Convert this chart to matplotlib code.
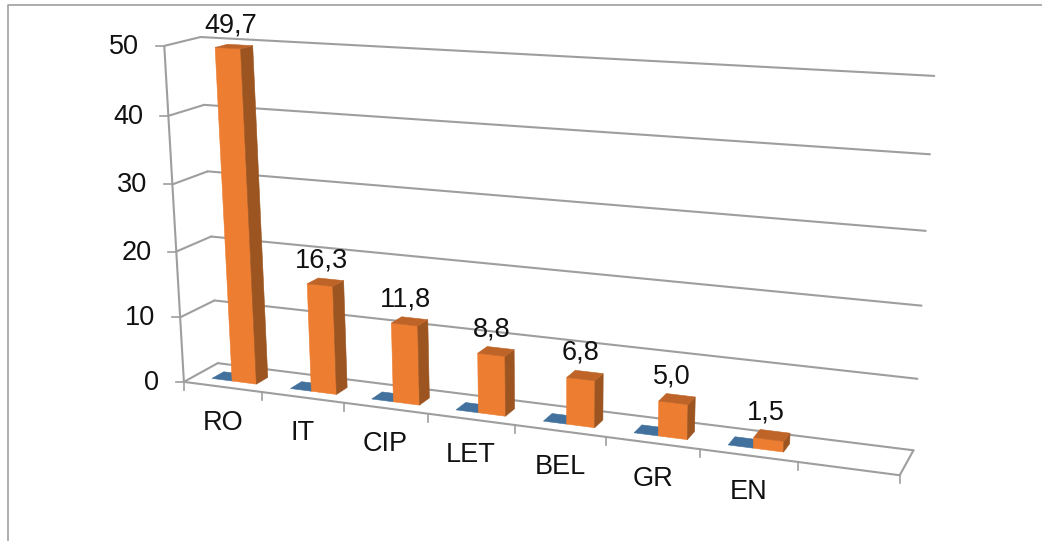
import numpy as np
import matplotlib
matplotlib.use("Agg")
import matplotlib.pyplot as plt

plt.rcParams['font.family'] = ['Liberation Sans', 'DejaVu Sans']

categories = ["RO", "IT", "CIP", "LET", "BEL", "GR", "EN"]
series_blue = [0, 0, 0, 0, 0, 0, 0]
series_orange = [49.7, 16.3, 11.8, 8.8, 6.8, 5.0, 1.5]
value_ticks = [0, 10, 20, 30, 40, 50]
n_slots = 8

# bar layout inside one category slot
BLUE_U = (0.23, 0.49)
ORANGE_U = (0.49, 0.80)
BAR_W = (0.30, 0.65)

GRID = "#9e9e9e"
ORANGE = "#ed7d31"
ORANGE_SIDE = "#9c5520"
ORANGE_TOP = "#bf6428"
BLUE = "#41719c"
FONT = 19.5

# (slot, depth, value) -> pixel pairs, used to fit the camera
calib = [
    (0, 0, 50, 164, 46), (0, 0, 40, 169, 116), (0, 0, 30, 173, 184),
    (0, 0, 20, 176, 250), (0, 0, 10, 180, 316), (0, 0, 0, 184, 382),
    (0, 1, 50, 201, 37), (0, 1, 40, 203, 105), (0, 1, 30, 207, 172),
    (0, 1, 20, 211, 238), (0, 1, 10, 215, 300), (0, 1, 0, 218, 363),
    (8, 1, 50, 934, 76), (8, 1, 40, 930, 155), (8, 1, 30, 926, 230),
    (8, 1, 20, 922, 305), (8, 1, 10, 918, 379), (8, 1, 0, 913, 449),
    (1, 0, 0, 262, 392), (2, 0, 0, 344, 403), (3, 0, 0, 428, 414),
    (4, 0, 0, 515, 426), (5, 0, 0, 606, 438), (6, 0, 0, 700, 450),
    (7, 0, 0, 798, 462), (8, 0, 0, 899, 475),
]

rows = []
rhs = []
for u, w, v, x, y in calib:
    p = [u, w, v, 1]
    rows.append(p + [0, 0, 0, 0] + [-x * c for c in p[:3]])
    rhs.append(x)
    rows.append([0, 0, 0, 0] + p + [-y * c for c in p[:3]])
    rhs.append(y)
cam = np.linalg.lstsq(np.array(rows, float), np.array(rhs, float), rcond=None)[0]
cam = np.append(cam, 1).reshape(3, 4)


def project(u, w, v):
    h = cam @ np.array([u, w, v, 1.0])
    return h[0] / h[2], h[1] / h[2]


def line(ax, a, b, lw=1.5):
    pa, pb = project(*a), project(*b)
    ax.plot([pa[0], pb[0]], [pa[1], pb[1]], color=GRID, lw=lw, solid_capstyle="round", zorder=1)


def face(ax, pts, color, z):
    xy = [project(*p) for p in pts]
    ax.fill([p[0] for p in xy], [p[1] for p in xy], color=color, lw=0.4, zorder=z)


fig = plt.figure(figsize=(10.42, 5.41), dpi=100)
ax = fig.add_axes([0, 0, 1, 1])
ax.set_xlim(0, 1042)
ax.set_ylim(541, 0)
ax.axis("off")

# chart border
ax.plot([7.5, 7.5, 1042], [541, 4.5, 4.5], color="#a0a0a0", lw=1.2, zorder=1)

# walls
for v in value_ticks:
    line(ax, (0, 1, v), (n_slots, 1, v))
    line(ax, (0, 0, v), (0, 1, v))
    x, y = project(0, 0, v)
    ax.plot([x - 8, x], [y, y], color=GRID, lw=1.2, zorder=1)
    ax.text(x - 25, y + 1, str(v), ha="right", va="center", fontsize=FONT, color="#111111")
line(ax, (0, 0, 0), (0, 0, 50))
line(ax, (0, 0, 0), (n_slots, 0, 0))
line(ax, (n_slots, 0, 0), (n_slots, 1, 0))

for i in range(0, n_slots + 1):
    x, y = project(i, 0, 0)
    ax.plot([x, x], [y, y + 8], color=GRID, lw=1.2, zorder=1)

# bars, left to right
for i, (cat, b, o) in enumerate(zip(categories, series_blue, series_orange)):
    u0, u1 = i + BLUE_U[0], i + BLUE_U[1]
    w0, w1 = BAR_W
    face(ax, [(u0, w0, b), (u1, w0, b), (u1, w1, b), (u0, w1, b)], BLUE, 3 + i)

    u0, u1 = i + ORANGE_U[0], i + ORANGE_U[1]
    face(ax, [(u0, w0, 0), (u1, w0, 0), (u1, w0, o), (u0, w0, o)], ORANGE, 4 + i)
    face(ax, [(u1, w0, 0), (u1, w1, 0), (u1, w1, o), (u1, w0, o)], ORANGE_SIDE, 4 + i)
    face(ax, [(u0, w0, o), (u1, w0, o), (u1, w1, o), (u0, w1, o)], ORANGE_TOP, 4 + i)

    x, y = project((u0 + u1) / 2, w1, o)
    ax.text(x - 9, y - 19, f"{o:.1f}".replace(".", ","), ha="center", va="center", fontsize=FONT, color="#111111", zorder=20)

    x, y = project(i + 0.5, 0, 0)
    ax.text(x, y + 36, cat, ha="center", va="center", fontsize=FONT, color="#111111")

fig.savefig("out.png", dpi=100)
